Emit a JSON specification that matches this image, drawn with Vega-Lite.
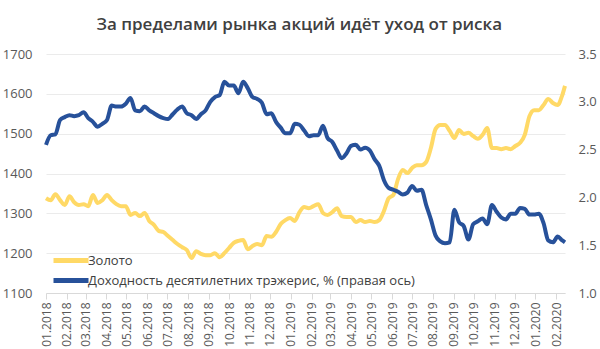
{
  "$schema": "https://vega.github.io/schema/vega-lite/v6.json",
  "width": 519,
  "height": 239,
  "autosize": {"type": "none"},
  "padding": {"left": 46, "top": 54, "right": 35, "bottom": 56},
  "background": "white",
  "title": {"text": "За пределами рынка акций идёт уход от риска", "anchor": "middle", "frame": "bounds", "fontSize": 17, "font": "Open Sans", "fontWeight": 600, "color": "#404040", "offset": 14},
  "config": {"view": {"stroke": null}, "font": "Open Sans"},
  "data": {"values": [
    {"date":"2018-01-01","gold":1338,"ust":2.55},
    {"date":"2018-01-08","gold":1333,"ust":2.65},
    {"date":"2018-01-15","gold":1348,"ust":2.66},
    {"date":"2018-01-22","gold":1333,"ust":2.81},
    {"date":"2018-01-29","gold":1321,"ust":2.84},
    {"date":"2018-02-05","gold":1343,"ust":2.86},
    {"date":"2018-02-12","gold":1328,"ust":2.85},
    {"date":"2018-02-19","gold":1321,"ust":2.86},
    {"date":"2018-02-26","gold":1323,"ust":2.89},
    {"date":"2018-03-05","gold":1318,"ust":2.83},
    {"date":"2018-03-12","gold":1346,"ust":2.79},
    {"date":"2018-03-19","gold":1326,"ust":2.74},
    {"date":"2018-03-26","gold":1333,"ust":2.77},
    {"date":"2018-04-02","gold":1346,"ust":2.81},
    {"date":"2018-04-09","gold":1333,"ust":2.96},
    {"date":"2018-04-16","gold":1323,"ust":2.95},
    {"date":"2018-04-23","gold":1318,"ust":2.95},
    {"date":"2018-04-30","gold":1318,"ust":2.98},
    {"date":"2018-05-07","gold":1296,"ust":3.04},
    {"date":"2018-05-14","gold":1301,"ust":2.91},
    {"date":"2018-05-21","gold":1293,"ust":2.90},
    {"date":"2018-05-28","gold":1301,"ust":2.95},
    {"date":"2018-06-04","gold":1281,"ust":2.91},
    {"date":"2018-06-11","gold":1271,"ust":2.88},
    {"date":"2018-06-18","gold":1256,"ust":2.85},
    {"date":"2018-06-25","gold":1253,"ust":2.83},
    {"date":"2018-07-02","gold":1243,"ust":2.82},
    {"date":"2018-07-09","gold":1233,"ust":2.87},
    {"date":"2018-07-16","gold":1223,"ust":2.92},
    {"date":"2018-07-23","gold":1215,"ust":2.95},
    {"date":"2018-07-30","gold":1208,"ust":2.88},
    {"date":"2018-08-06","gold":1188,"ust":2.86},
    {"date":"2018-08-13","gold":1205,"ust":2.82},
    {"date":"2018-08-20","gold":1198,"ust":2.87},
    {"date":"2018-08-27","gold":1195,"ust":2.91},
    {"date":"2018-09-03","gold":1195,"ust":3.00},
    {"date":"2018-09-10","gold":1200,"ust":3.05},
    {"date":"2018-09-17","gold":1190,"ust":3.07},
    {"date":"2018-09-24","gold":1200,"ust":3.21},
    {"date":"2018-10-01","gold":1213,"ust":3.17},
    {"date":"2018-10-08","gold":1226,"ust":3.17},
    {"date":"2018-10-15","gold":1231,"ust":3.09},
    {"date":"2018-10-22","gold":1233,"ust":3.21},
    {"date":"2018-10-29","gold":1210,"ust":3.14},
    {"date":"2018-11-05","gold":1218,"ust":3.05},
    {"date":"2018-11-12","gold":1223,"ust":3.03},
    {"date":"2018-11-19","gold":1220,"ust":2.99},
    {"date":"2018-11-26","gold":1243,"ust":2.87},
    {"date":"2018-12-03","gold":1241,"ust":2.88},
    {"date":"2018-12-10","gold":1253,"ust":2.79},
    {"date":"2018-12-17","gold":1273,"ust":2.73},
    {"date":"2018-12-24","gold":1283,"ust":2.67},
    {"date":"2018-12-31","gold":1288,"ust":2.67},
    {"date":"2019-01-07","gold":1281,"ust":2.77},
    {"date":"2019-01-14","gold":1303,"ust":2.76},
    {"date":"2019-01-21","gold":1316,"ust":2.70},
    {"date":"2019-01-28","gold":1313,"ust":2.64},
    {"date":"2019-02-04","gold":1318,"ust":2.65},
    {"date":"2019-02-11","gold":1323,"ust":2.65},
    {"date":"2019-02-18","gold":1301,"ust":2.75},
    {"date":"2019-02-25","gold":1296,"ust":2.62},
    {"date":"2019-03-04","gold":1303,"ust":2.58},
    {"date":"2019-03-11","gold":1313,"ust":2.49},
    {"date":"2019-03-18","gold":1293,"ust":2.41},
    {"date":"2019-03-25","gold":1291,"ust":2.46},
    {"date":"2019-04-01","gold":1291,"ust":2.54},
    {"date":"2019-04-08","gold":1278,"ust":2.55},
    {"date":"2019-04-15","gold":1283,"ust":2.50},
    {"date":"2019-04-22","gold":1278,"ust":2.52},
    {"date":"2019-04-29","gold":1281,"ust":2.49},
    {"date":"2019-05-06","gold":1278,"ust":2.40},
    {"date":"2019-05-13","gold":1283,"ust":2.33},
    {"date":"2019-05-20","gold":1306,"ust":2.18},
    {"date":"2019-05-27","gold":1338,"ust":2.10},
    {"date":"2019-06-03","gold":1346,"ust":2.08},
    {"date":"2019-06-10","gold":1386,"ust":2.06},
    {"date":"2019-06-17","gold":1409,"ust":2.03},
    {"date":"2019-06-24","gold":1401,"ust":2.05},
    {"date":"2019-07-01","gold":1414,"ust":2.12},
    {"date":"2019-07-08","gold":1421,"ust":2.07},
    {"date":"2019-07-15","gold":1421,"ust":2.08},
    {"date":"2019-07-22","gold":1429,"ust":1.92},
    {"date":"2019-07-29","gold":1464,"ust":1.77},
    {"date":"2019-08-05","gold":1512,"ust":1.60},
    {"date":"2019-08-12","gold":1522,"ust":1.54},
    {"date":"2019-08-19","gold":1522,"ust":1.52},
    {"date":"2019-08-26","gold":1507,"ust":1.53},
    {"date":"2019-09-02","gold":1489,"ust":1.87},
    {"date":"2019-09-09","gold":1509,"ust":1.74},
    {"date":"2019-09-16","gold":1499,"ust":1.70},
    {"date":"2019-09-23","gold":1502,"ust":1.56},
    {"date":"2019-09-30","gold":1494,"ust":1.72},
    {"date":"2019-10-07","gold":1487,"ust":1.75},
    {"date":"2019-10-14","gold":1497,"ust":1.78},
    {"date":"2019-10-21","gold":1514,"ust":1.72},
    {"date":"2019-10-28","gold":1464,"ust":1.92},
    {"date":"2019-11-04","gold":1464,"ust":1.85},
    {"date":"2019-11-11","gold":1461,"ust":1.79},
    {"date":"2019-11-18","gold":1464,"ust":1.77},
    {"date":"2019-11-25","gold":1461,"ust":1.83},
    {"date":"2019-12-02","gold":1469,"ust":1.83},
    {"date":"2019-12-09","gold":1477,"ust":1.89},
    {"date":"2019-12-16","gold":1497,"ust":1.88},
    {"date":"2019-12-23","gold":1544,"ust":1.82},
    {"date":"2019-12-30","gold":1559,"ust":1.82},
    {"date":"2020-01-06","gold":1559,"ust":1.83},
    {"date":"2020-01-13","gold":1572,"ust":1.73},
    {"date":"2020-01-20","gold":1587,"ust":1.55},
    {"date":"2020-01-27","gold":1577,"ust":1.53},
    {"date":"2020-02-03","gold":1572,"ust":1.59},
    {"date":"2020-02-10","gold":1597,"ust":1.55},
    {"date":"2020-02-14","gold":1620,"ust":1.53}
  ]},
  "encoding": {
    "x": {
      "field": "date", "type": "temporal",
      "scale": {"type": "utc"},
      "axis": {
        "title": null, "labelExpr": "utcFormat(datum.value, '%m.%Y')",
        "tickCount": {"interval": "month", "step": 1},
        "labelAngle": -90, "labelFontSize": 12, "labelColor": "#595959", "labelFont": "Open Sans",
        "grid": false, "domainColor": "#d9d9d9", "tickColor": "#d9d9d9", "tickSize": 6, "labelPadding": 3,
        "labelOverlap": false, "labelFlush": false
      }
    }
  },
  "layer": [
    {
      "mark": {"type": "line", "strokeWidth": 4, "interpolate": "monotone"},
      "encoding": {
        "y": {
          "field": "gold", "type": "quantitative",
          "scale": {"domain": [1100, 1700], "nice": false, "zero": false},
          "axis": {"title": null, "orient": "left", "values": [1100, 1200, 1300, 1400, 1500, 1600, 1700], "format": "d", "domain": false, "ticks": false, "labelPadding": 14, "labelFontSize": 13, "labelColor": "#595959", "labelFont": "Open Sans", "grid": true, "gridColor": "#ebebeb"}
        },
        "color": {
          "datum": "Золото",
          "scale": {"domain": ["Золото", "Доходность десятилетних трэжерис, % (правая ось)"], "range": ["#FFD966", "#27519A"]},
          "legend": {"title": null, "orient": "none", "legendX": 5, "legendY": 199, "symbolType": "M-1,0H6", "symbolSize": 100, "symbolStrokeWidth": 5, "symbolFillColor": "transparent", "labelFontSize": 13, "labelColor": "#404040", "labelFont": "Open Sans", "labelOffset": 22, "rowPadding": -1, "padding": 0, "labelLimit": 400}
        }
      }
    },
    {
      "mark": {"type": "line", "strokeWidth": 4, "interpolate": "monotone"},
      "encoding": {
        "y": {
          "field": "ust", "type": "quantitative",
          "scale": {"domain": [1.0, 3.5], "nice": false, "zero": false},
          "axis": {"title": null, "orient": "right", "values": [1.0, 1.5, 2.0, 2.5, 3.0, 3.5], "format": ".1f", "domain": false, "ticks": false, "labelPadding": 13, "labelFontSize": 13, "labelColor": "#595959", "labelFont": "Open Sans", "grid": false}
        },
        "color": {"datum": "Доходность десятилетних трэжерис, % (правая ось)"}
      }
    }
  ],
  "resolve": {"scale": {"y": "independent"}}
}
